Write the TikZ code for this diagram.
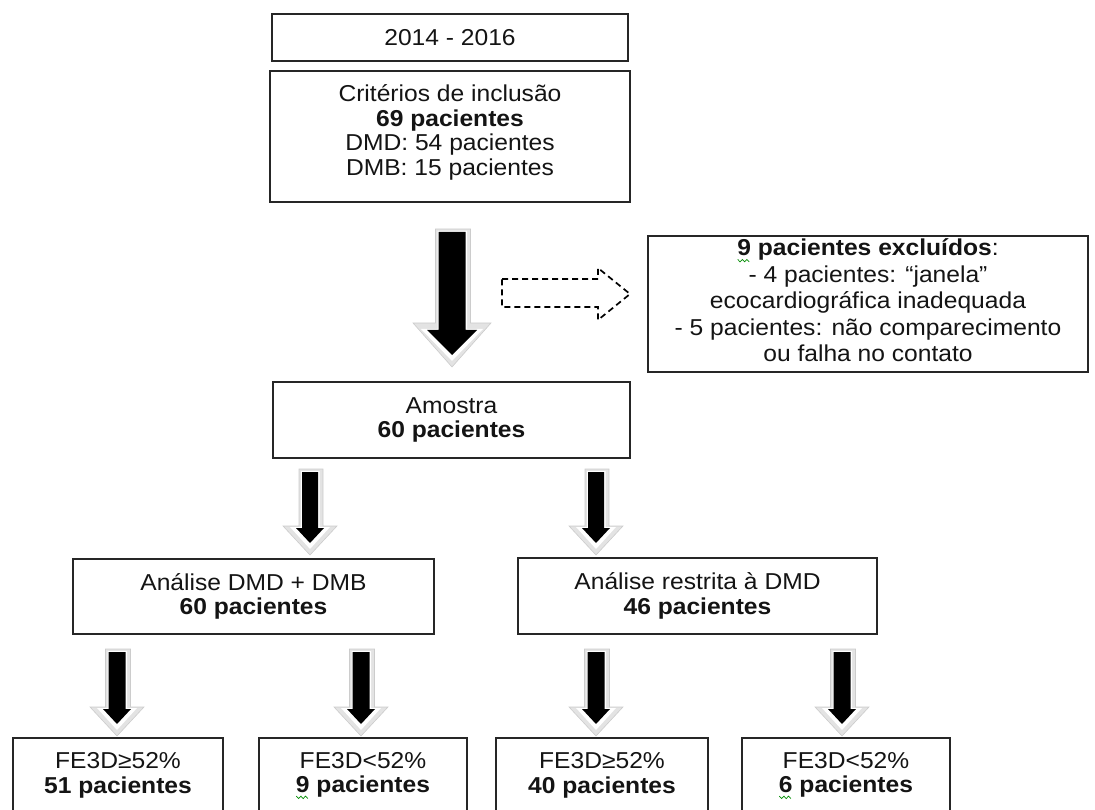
\documentclass[tikz,border=0pt]{standalone}
\usepackage{fontspec}
\setmainfont{Liberation Sans}[FakeStretch=1.07]
\usetikzlibrary{calc}
% fat block arrow: #1 start, #2 outer tip, #3 body half, #4 inner head half,
% #5 inner head length, #6 outer head half, #7 outer head length
\newcommand\fatarrow[7]{%
  \path[fill=gray!22, draw=gray!40, line width=0.6pt] let \p1=(#1), \p2=(#2) in
    (\x1-#3pt-3pt,\y1+3pt) -- (\x1+#3pt+5pt,\y1+3pt) -- (\x1+#3pt+5pt,\y2+#7pt)
    -- (\x1+#6pt,\y2+#7pt) -- (\x2,\y2) -- (\x1-#6pt,\y2+#7pt)
    -- (\x1-#3pt-3pt,\y2+#7pt) -- cycle;
  \path[fill=white] let \p1=(#1), \p2=(#2) in
    (\x1-#3pt-1pt,\y1+1pt) -- (\x1+#3pt+1.5pt,\y1+1pt) -- (\x1+#3pt+1.5pt,\y2+12pt+#5pt+1pt)
    -- (\x1+#4pt+6pt,\y2+12pt+#5pt+1pt) -- (\x2,\y2+6pt) -- (\x1-#4pt-6pt,\y2+12pt+#5pt+1pt)
    -- (\x1-#3pt-1pt,\y2+12pt+#5pt+1pt) -- cycle;
  \path[fill=black] let \p1=(#1), \p2=(#2) in
    (\x1-#3pt,\y1) -- (\x1+#3pt,\y1) -- (\x1+#3pt,\y2+12pt+#5pt)
    -- (\x1+#4pt,\y2+12pt+#5pt) -- (\x2,\y2+12pt) -- (\x1-#4pt,\y2+12pt+#5pt)
    -- (\x1-#3pt,\y2+12pt+#5pt) -- cycle;
}
% green spell-check squiggle under a character (zero width overlay)
\newcommand\sq[1]{\rlap{\tikz[baseline=0pt,x=1pt,y=1pt]{%
  \draw[green!55!black, line width=0.7pt, fill=none, solid] (0.5,-3.5)
    -- ++(2.3,-2.4) -- ++(2.3,2.4) -- ++(2.3,-2.4) -- ++(2.3,2.4) -- ++(2.3,-2.4);}}#1}
\begin{document}
\begin{tikzpicture}[x=1pt,y=-1pt,
  box/.style={draw=black!85, line width=1.3pt, fill=white, align=center,
    inner sep=0pt, text=black!92, font=\fontsize{23}{24.5}\selectfont},
  dasharrow/.style={draw=black, line width=1.7pt, fill=white,
    dash pattern=on 6pt off 4pt}]
\useasboundingbox (0,0) rectangle (1095,810);
\begin{scope}
\clip (0,0) rectangle (1095,810);
% boxes
\node[box, minimum width=356pt, minimum height=47pt] (yr) at (450,37.5) {2014 - 2016};
\node[box, minimum width=360pt, minimum height=131pt, text depth=12.5pt] (crit) at (450,136.5)
  {Critérios de inclusão\\\textbf{69 pacientes}\\DMD: 54 pacientes\\DMB: 15 pacientes};
\node[box, minimum width=440pt, minimum height=136pt, text depth=7pt,
  font=\fontsize{23}{26.5}\selectfont] (excl) at (868,304)
  {\textbf{\sq{9} pacientes excluídos}:\\- 4 pacientes: “janela”\\ecocardiográfica inadequada\\- 5 pacientes: não comparecimento\\ou falha no contato};
\node[box, minimum width=357pt, minimum height=76pt] (amo) at (451.5,420)
  {Amostra\\\textbf{60 pacientes}};
\node[box, minimum width=361pt, minimum height=75pt] (anA) at (253.5,596.5)
  {Análise DMD + DMB\\\textbf{60 pacientes}};
\node[box, minimum width=359pt, minimum height=76pt] (anB) at (697.5,596)
  {Análise restrita à DMD\\\textbf{46 pacientes}};
\node[box, minimum width=210pt, minimum height=75pt] (r1) at (118,775.5)
  {FE3D≥52\%\\\textbf{51 pacientes}};
\node[box, minimum width=208pt, minimum height=75pt] (r2) at (363,775.5)
  {FE3D<52\%\\\textbf{\sq{9} pacientes}};
\node[box, minimum width=212pt, minimum height=75pt] (r3) at (602,775.5)
  {FE3D≥52\%\\\textbf{40 pacientes}};
\node[box, minimum width=208pt, minimum height=75pt] (r4) at (846,775.5)
  {FE3D<52\%\\\textbf{\sq{6} pacientes}};
% arrow end points
\coordinate (b0) at (452,232);  \coordinate (b1) at (452,367);
\coordinate (a0) at (310,472);  \coordinate (a1) at (310,555);
\coordinate (c0) at (596,472);  \coordinate (c1) at (596,555);
\coordinate (d0) at (117,652);  \coordinate (d1) at (117,736);
\coordinate (e0) at (361,652);  \coordinate (e1) at (361,736);
\coordinate (f0) at (596,652);  \coordinate (f1) at (596,736);
\coordinate (g0) at (842,652);  \coordinate (g1) at (842,736);
\coordinate (x0) at (502,293);  \coordinate (x1) at (630,294);
% arrows
\fatarrow{b0}{b1}{13.5}{25}{25}{39}{44}
\fatarrow{a0}{a1}{8}{14}{15}{27}{29}
\fatarrow{c0}{c1}{8}{14}{15}{27}{29}
\fatarrow{d0}{d1}{8.5}{14}{15}{27}{29}
\fatarrow{e0}{e1}{8.5}{14}{15}{27}{29}
\fatarrow{f0}{f1}{8.5}{14}{15}{27}{29}
\fatarrow{g0}{g1}{8.5}{14}{15}{27}{29}
% dashed arrow to excluded
\path[dasharrow] let \p1=(x0), \p2=(x1) in
  (\x1,\y1+14pt) -- (\x2-32pt,\y1+14pt) -- (\x2-32pt,\y2+26pt) -- (\x2,\y2)
  -- (\x2-32pt,\y2-26pt) -- (\x2-32pt,\y1-14pt) -- (\x1,\y1-14pt) -- cycle;
\end{scope}
\end{tikzpicture}
\end{document}
